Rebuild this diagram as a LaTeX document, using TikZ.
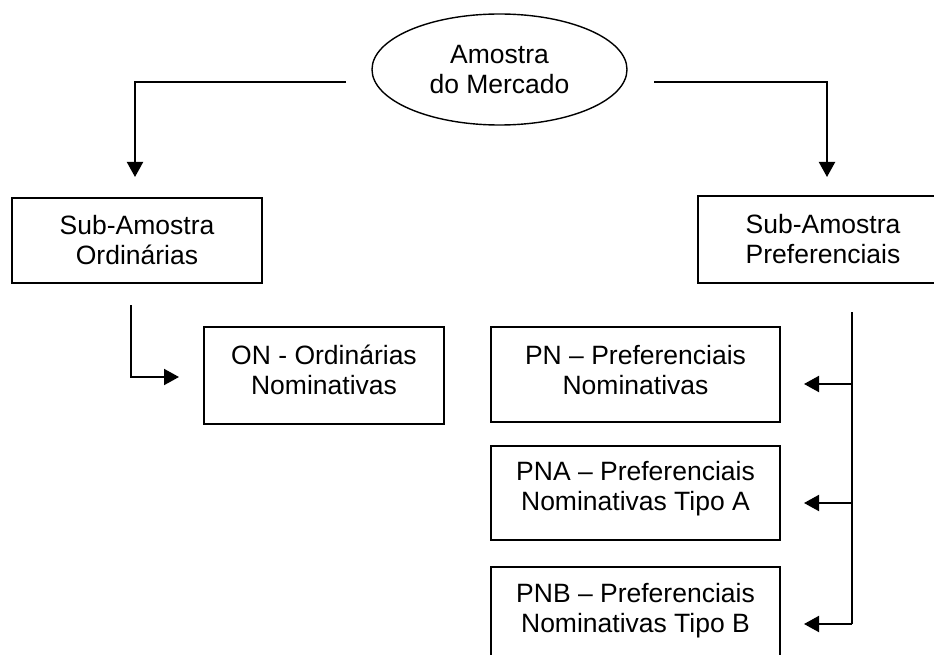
\documentclass[tikz,border=0pt]{standalone}
\usepackage{fontspec}
\setmainfont{Liberation Sans}
\usetikzlibrary{arrows.meta,shapes.geometric}
\begin{document}
\begin{tikzpicture}[x=1pt,y=-1pt,
  box/.style={draw, rectangle, line width=1.8pt, inner sep=0pt},
  oval/.style={draw, ellipse, line width=1.4pt, inner sep=0pt,
    minimum width=255pt, minimum height=111pt},
  txt/.style={align=center, inner sep=0pt, font=\fontsize{26.5}{30}\selectfont},
  link/.style={line width=2pt},
  arr/.style={link, -{Triangle[length=15pt,width=16pt]}}]

% page frame
\clip (0,0) rectangle (934,655);

% root of the sample tree
\node[oval, txt] (root) at (499.5,69.5) {Amostra\\do Mercado};

% sub-samples
\node[box, txt, minimum width=250pt, minimum height=85pt] (subO) at (137,240.5)
  {Sub-Amostra\\Ordinárias};
\node[box, txt, minimum width=250pt, minimum height=87pt] (subP) at (823,239.5)
  {Sub-Amostra\\Preferenciais};

% share classes (text sits slightly above the box centre)
\node[box, minimum width=240pt, minimum height=97pt] (on)  at (324,375.5) {};
\node[box, minimum width=289pt, minimum height=95pt] (pn)  at (635.5,374.5) {};
\node[box, minimum width=289pt, minimum height=94pt] (pna) at (635.5,493) {};
\node[box, minimum width=289pt, minimum height=95pt] (pnb) at (635.5,614.5) {};

\node[txt] (onText)  at ([yshift=5.5pt]on.center)  {ON - Ordinárias\\Nominativas};
\node[txt] (pnText)  at ([yshift=4.5pt]pn.center)  {PN – Preferenciais\\Nominativas};
\node[txt] (pnaText) at ([yshift=4pt]pna.center)   {PNA – Preferenciais\\Nominativas Tipo A};
\node[txt] (pnbText) at ([yshift=3.5pt]pnb.center) {PNB – Preferenciais\\Nominativas Tipo B};

% free ends of the connectors
\coordinate (rootL) at (346,82);
\coordinate (rootR) at (654,82);
\coordinate (subOin) at (135,177);
\coordinate (subPin) at (827,177);
\coordinate (subOout) at (131,305);
\coordinate (onIn) at (179,377);
\coordinate (subPout) at (852,312);
\coordinate (pnIn) at (804,384);
\coordinate (pnaIn) at (804,503);
\coordinate (pnbIn) at (804,624);

% root -> sub-samples
\draw[arr] (rootL) -| (subOin);
\draw[arr] (rootR) -| (subPin);

% ordinary sub-sample -> ON
\draw[arr] (subOout) |- (onIn);

% preferred sub-sample -> PN, PNA, PNB
\draw[link] (subPout) -- (subPout |- pnbIn);
\draw[arr] (subPout |- pnIn) -- (pnIn);
\draw[arr] (subPout |- pnaIn) -- (pnaIn);
\draw[arr] (subPout |- pnbIn) -- (pnbIn);
\end{tikzpicture}
\end{document}
